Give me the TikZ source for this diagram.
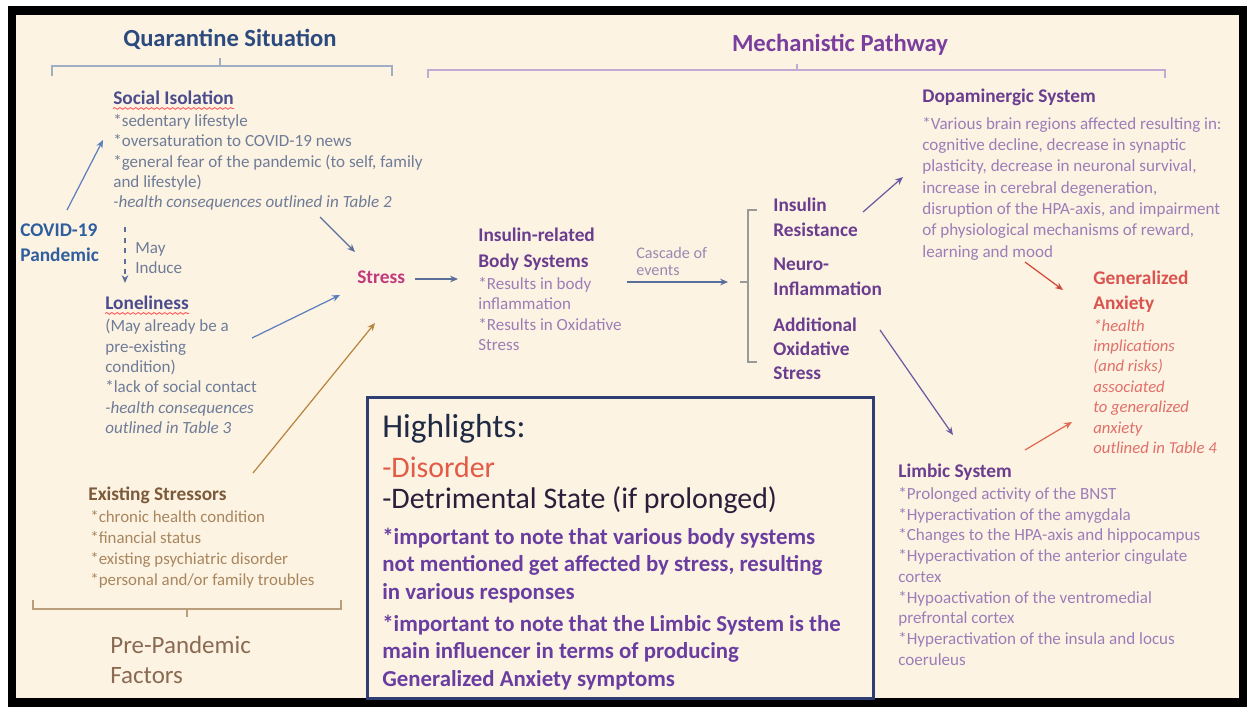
\documentclass[tikz,border=0pt]{standalone}
\usepackage{fontspec}
\setmainfont{Carlito}
\usetikzlibrary{calc,arrows.meta,decorations.pathmorphing}

\definecolor{cream}{HTML}{FDF3E3}
\definecolor{qblue}{HTML}{2B4A7E}
\definecolor{mpurple}{HTML}{7A3F9E}
\definecolor{headblue}{HTML}{4A4C8C}
\definecolor{greyblue}{HTML}{6E7C98}
\definecolor{covidblue}{HTML}{2F5E9E}
\definecolor{stresspink}{HTML}{C2397E}
\definecolor{brownhead}{HTML}{7D5A3A}
\definecolor{tanbody}{HTML}{A8865E}
\definecolor{ppbrown}{HTML}{8A6A52}
\definecolor{purplehead}{HTML}{6A3D8E}
\definecolor{lilac}{HTML}{9C7DB8}
\definecolor{lilacgrey}{HTML}{9A88B0}
\definecolor{anxred}{HTML}{D9534F}
\definecolor{salmon}{HTML}{E0706A}
\definecolor{boxnavy}{HTML}{2E3E72}
\definecolor{hlnavy}{HTML}{1F2A44}
\definecolor{hlpurple}{HTML}{6A3DA0}
\definecolor{disred}{HTML}{E25B47}
\definecolor{detdark}{HTML}{2A1E3A}
\definecolor{arrblue}{HTML}{5B7FBF}
\definecolor{arrgrey}{HTML}{5A6E9A}
\definecolor{arrbrown}{HTML}{B8843E}
\definecolor{arrpurple}{HTML}{6A5AA0}
\definecolor{arrred}{HTML}{D04A3A}
\definecolor{arrorange}{HTML}{E06A50}

\tikzset{
  body/.style={font=\fontsize{9.7}{11.6}\selectfont, align=left, inner sep=0pt, anchor=north west},
  head/.style={font=\fontsize{11}{14.2}\selectfont\bfseries, align=left, inner sep=0pt, anchor=north west},
  title/.style={font=\fontsize{14}{16}\selectfont\bfseries, inner sep=0pt},
  note/.style={font=\fontsize{13}{15.5}\selectfont\bfseries, align=left, inner sep=0pt, anchor=north west, text=hlpurple},
  link/.style={->, line width=0.7pt},
  squiggle/.style={red!65, line width=0.5pt, decorate, decoration={snake, amplitude=0.5pt, segment length=3pt}}
}

\begin{document}
\begin{tikzpicture}[x=0.02cm, y=-0.02cm, >={Stealth[length=4.5pt,width=3.8pt]}]
  \useasboundingbox (0,0) rectangle (1247,708);
  \fill[white] (0,0) rectangle (1247,708);
  \filldraw[fill=cream, draw=black, line width=0.18cm] (12,10) rectangle (1243,702);

  % headings and brackets
  \node[title, text=qblue] (quar) at (230,39) {Quarantine Situation};
  \node[title, text=mpurple] (mech) at (840,45) {Mechanistic Pathway};
  \draw[qblue!45, line width=0.7pt] (52,76) -- (52,66) -- (392,66) -- (392,76) (220,66) -- (220,58);
  \draw[mpurple!45, line width=0.7pt] (428,78) -- (428,70) -- (1165,70) -- (1165,78) (797,70) -- (797,64);

  % quarantine side
  \node[head, text=headblue] (soc) at (113,91) {Social Isolation};
  \draw[squiggle] ($(soc.south west)+(0,3)$) -- ($(soc.south east)+(0,3)$);
  \node[body, text=greyblue] (socbody) at (113,114) {*sedentary lifestyle\\*oversaturation to COVID-19 news\\*general fear of the pandemic  (to self, family\\and lifestyle)\\\textit{-health consequences  outlined in Table 2}};
  \node[head, text=covidblue, font=\fontsize{11}{14.7}\selectfont\bfseries] (covid) at (20,223) {COVID-19\\Pandemic};
  \node[body, text=greyblue] (induce) at (135,242) {May\\Induce};
  \node[head, text=headblue] (lone) at (105,296) {Loneliness};
  \draw[squiggle] ($(lone.south west)+(0,3)$) -- ($(lone.south east)+(0,3)$);
  \node[body, text=greyblue] (lonebody) at (105,319) {(May already be a\\pre-existing\\condition)\\*lack of social contact\\\textit{-health consequences}\\\textit{outlined in Table 3}};
  \node[head, text=stresspink] (stress) at (357,270) {Stress};

  % pre-pandemic side
  \node[head, text=brownhead] (exist) at (88,487) {Existing Stressors};
  \node[body, text=tanbody, font=\fontsize{9.6}{11.9}\selectfont] (existbody) at (90,510) {*chronic health condition\\*financial status\\*existing psychiatric disorder\\*personal and/or family troubles};
  \draw[tanbody!80, line width=0.7pt] (33,600) -- (33,609) -- (341,609) -- (341,600) (187,609) -- (187,617);
  \node[anchor=north west, inner sep=0pt, align=left, font=\fontsize{14.2}{17}\selectfont, text=ppbrown] (prepan) at (110,636) {Pre-Pandemic\\Factors};

  % mechanistic pathway
  \node[head, text=purplehead, font=\fontsize{11}{14.7}\selectfont\bfseries] (insrel) at (478,228) {Insulin-related\\Body Systems};
  \node[body, text=lilac] (insbody) at (478,277) {*Results in body\\inflammation\\*Results in Oxidative\\Stress};
  \node[body, text=lilacgrey, font=\fontsize{9.2}{9.8}\selectfont] (cascade) at (636,247) {Cascade of\\events};
  \coordinate (fork) at (740,282);
  \draw[gray!80, line width=0.7pt] (fork) -- ++(8,0) (757,210) -- (748,210) -- (748,362) -- (757,362);
  \node[head, text=purplehead] (insres) at (773,198) {Insulin\\Resistance};
  \node[head, text=purplehead] (neuro) at (773,258) {Neuro-\\Inflammation};
  \node[head, text=purplehead, font=\fontsize{11}{13.6}\selectfont\bfseries] (addox) at (773,318) {Additional\\Oxidative\\Stress};
  \node[head, text=purplehead] (dop) at (922,89) {Dopaminergic  System};
  \node[body, text=lilac, font=\fontsize{9.7}{12.1}\selectfont] (dopbody) at (922,117) {*Various brain regions affected resulting in:\\cognitive decline,  decrease in synaptic\\ plasticity, decrease in neuronal survival,\\increase in cerebral degeneration,\\disruption  of the HPA-axis, and impairment\\of physiological mechanisms of reward,\\learning and mood};
  \node[head, text=anxred] (anx) at (1093,271) {Generalized\\Anxiety};
  \node[body, text=salmon, font=\fontsize{9.5}{11.6}\selectfont\itshape] (anxbody) at (1093,319) {*health\\implications\\(and risks)\\associated\\to generalized\\anxiety\\outlined in Table 4};
  \node[head, text=purplehead] (limb) at (898,464) {Limbic System};
  \node[body, text=lilac, font=\fontsize{9.7}{11.8}\selectfont] (limbbody) at (898,487) {*Prolonged activity of the BNST\\*Hyperactivation of the amygdala\\*Changes to the HPA-axis and hippocampus\\*Hyperactivation of the anterior cingulate\\cortex\\*Hypoactivation of the ventromedial\\prefrontal cortex\\*Hyperactivation of the insula and locus\\coeruleus};

  % highlights
  \draw[boxnavy, line width=0.06cm] (367,397) rectangle (873,698);
  \node[anchor=north west, inner sep=0pt, font=\fontsize{19}{22}\selectfont, text=hlnavy] (hl) at (382,414) {Highlights:};
  \node[anchor=north west, inner sep=0pt, font=\fontsize{17}{19}\selectfont, text=disred] (disorder) at (382,456) {-Disorder};
  \node[anchor=north west, inner sep=0pt, font=\fontsize{17}{19}\selectfont, text=detdark] (detr) at (382,486) {-Detrimental State (if prolonged)};
  \node[note] (note1) at (382,528) {*important to note that various body systems\\not mentioned get affected by stress, resulting\\in various responses};
  \node[note] (note2) at (382,615) {*important to note that the Limbic System is the\\main influencer in terms of producing\\Generalized Anxiety symptoms};

  % connectors
  \draw[link, arrblue] ($(covid.north west)+(47,-13)$) -- ($(socbody.north west)+(-10,26)$);
  \draw[link, arrgrey] ($(socbody.north west)+(207,103)$) -- ($(stress.north west)+(-2,-18)$);
  \draw[link, arrgrey, dashed] ($(socbody.north west)+(12,113)$) -- ($(lone.north west)+(20,-13)$);
  \draw[link, arrblue] ($(lonebody.north west)+(147,19)$) -- ($(stress.north west)+(-17,25)$);
  \draw[link, arrbrown] ($(exist.north west)+(165,-14)$) -- ($(stress.north west)+(18,53)$);
  \draw[link, arrgrey] ($(stress.north west)+(58,9)$) -- ($(insbody.north west)+(-20,2)$);
  \draw[link, arrgrey] ($(cascade.north west)+(-9,35)$) -- ($(fork)+(-12,0)$);
  \draw[link, arrpurple] ($(insres.north west)+(90,14)$) -- ($(dopbody.north west)+(-19,60)$);
  \draw[link, arrred] ($(dopbody.north west)+(103,145)$) -- ($(anx.north west)+(-30,19)$);
  \draw[link, arrpurple] ($(addox.north west)+(107,12)$) -- ($(limb.north west)+(55,-29)$);
  \draw[link, arrorange] ($(limb.north west)+(127,-14)$) -- ($(anxbody.north west)+(-21,103)$);
\end{tikzpicture}
\end{document}
